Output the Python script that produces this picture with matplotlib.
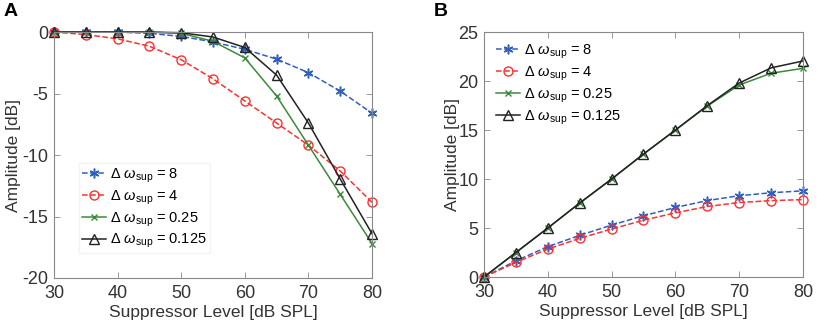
import matplotlib.pyplot as plt

plt.rcParams['font.family'] = ['Liberation Sans', 'DejaVu Sans']
plt.rcParams['mathtext.fontset'] = 'custom'
plt.rcParams['mathtext.rm'] = 'Liberation Sans'
plt.rcParams['mathtext.it'] = 'Liberation Sans:italic'
plt.rcParams['axes.unicode_minus'] = False

# Data
level = [30, 35, 40, 45, 50, 55, 60, 65, 70, 75, 80]

a_w8 = [0, 0, 0, -0.1, -0.35, -0.8, -1.4, -2.2, -3.3, -4.8, -6.6]
a_w4 = [0, -0.2, -0.55, -1.15, -2.25, -3.8, -5.6, -7.4, -9.2, -11.3, -13.85]
a_w025 = [0, 0, 0, 0, -0.1, -0.75, -2.1, -5.2, -9.2, -13.2, -17.2]
a_w0125 = [0, 0, 0, 0, -0.05, -0.4, -1.25, -3.5, -7.4, -11.95, -16.4]

b_w8 = [0, 1.65, 3.1, 4.25, 5.3, 6.25, 7.1, 7.8, 8.3, 8.6, 8.8]
b_w4 = [0, 1.5, 2.85, 3.95, 4.9, 5.8, 6.55, 7.2, 7.6, 7.8, 7.9]
b_w025 = [0, 2.5, 5.0, 7.55, 10.0, 12.55, 15.0, 17.45, 19.6, 20.8, 21.3]
b_w0125 = [0, 2.5, 5.0, 7.55, 10.0, 12.55, 15.0, 17.5, 19.8, 21.35, 22.05]

labels = [r'$\Delta\ \omega_{\mathrm{sup}}$ = 8',
          r'$\Delta\ \omega_{\mathrm{sup}}$ = 4',
          r'$\Delta\ \omega_{\mathrm{sup}}$ = 0.25',
          r'$\Delta\ \omega_{\mathrm{sup}}$ = 0.125']

blue = '#2f5fbf'
red = '#ff3030'
green = '#3a8a3a'
black = '#222222'
asterisk = (6, 2, 0)


def draw(ax, s8, s4, s025, s0125):
    ax.plot(level, s8, '--', color=blue, marker=asterisk, ms=7, mew=1.1, lw=1.1,
            label=labels[0], clip_on=False)
    ax.plot(level, s4, '--', color=red, marker='o', ms=6.5, mfc='none', lw=1.1,
            label=labels[1], clip_on=False)
    ax.plot(level, s025, '-', color=green, marker='x', ms=5, lw=1.1,
            label=labels[2], clip_on=False)
    ax.plot(level, s0125, '-', color=black, marker='^', ms=7, mfc='none', lw=1.1,
            label=labels[3], clip_on=False)
    ax.set_xlim(30, 80)
    ax.set_xticks(range(30, 81, 10))
    ax.set_xlabel('Suppressor Level [dB SPL]', fontsize=12.5, color='#333333', labelpad=2)
    ax.set_ylabel('Amplitude [dB]', fontsize=12.5, color='#333333')
    ax.tick_params(direction='in', length=4, width=0.6, colors='#888888',
                   labelcolor='#333333', labelsize=13, top=True, right=True)
    ax.tick_params(axis='x', pad=5)
    ax.tick_params(axis='y', pad=4)
    for sp in ax.spines.values():
        sp.set_color('#888888')
        sp.set_linewidth(0.8)


fig = plt.figure(figsize=(8.31, 3.21), dpi=100)

ax1 = fig.add_axes([0.065, 0.134, 0.3827, 0.766])
draw(ax1, a_w8, a_w4, a_w025, a_w0125)
ax1.set_ylim(-20, 0)
ax1.set_yticks([-20, -15, -10, -5, 0])
ax1.yaxis.set_label_coords(-0.105, 0.5)
ax1.legend(loc='lower left', bbox_to_anchor=(0.08, 0.1), fontsize=10.5, frameon=True,
           fancybox=False, edgecolor='#f0f0f0', handlelength=1.6, handletextpad=0.3,
           labelspacing=0.25, borderpad=0.2, borderaxespad=0)

ax2 = fig.add_axes([0.5824, 0.137, 0.3839, 0.763])
draw(ax2, b_w8, b_w4, b_w025, b_w0125)
ax2.set_ylim(0, 25)
ax2.set_yticks([0, 5, 10, 15, 20, 25])
ax2.yaxis.set_label_coords(-0.075, 0.5)
ax2.legend(loc='upper left', bbox_to_anchor=(0.03, 0.97), fontsize=10.5, frameon=False,
           handlelength=1.6, handletextpad=0.3, labelspacing=0.25, borderpad=0.2,
           borderaxespad=0)

fig.text(0.004, 0.99, 'A', fontsize=14, fontweight='bold', va='top')
fig.text(0.522, 0.99, 'B', fontsize=14, fontweight='bold', va='top')

fig.savefig('out.png', dpi=100)
